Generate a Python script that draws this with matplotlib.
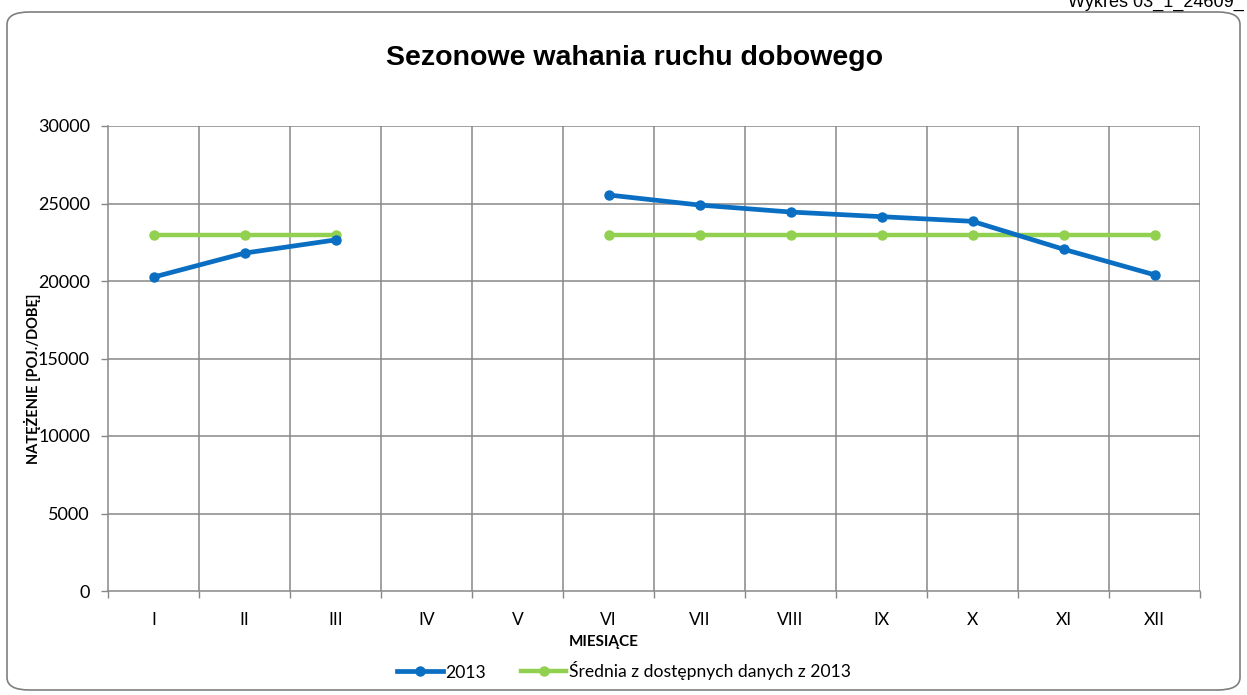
import matplotlib.pyplot as plt
import numpy as np
from matplotlib.patches import FancyBboxPatch

# data
miesiace = ['I', 'II', 'III', 'IV', 'V', 'VI', 'VII', 'VIII', 'IX', 'X', 'XI', 'XII']
ruch_2013 = [20250, 21800, 22650, np.nan, np.nan, 25550, 24900, 24450, 24150, 23850, 22050, 20400]
srednia_2013 = [23000, 23000, 23000, np.nan, np.nan, 23000, 23000, 23000, 23000, 23000, 23000, 23000]
y_ticks = [0, 5000, 10000, 15000, 20000, 25000, 30000]

blue = '#0A6FC2'
green = '#92D050'
grid_c = '#878787'

fig = plt.figure(figsize=(12.47, 6.95), dpi=100)
ax = fig.add_axes([108/1247, 1-591/695, (1200-108)/1247, (591-126)/695])

x = np.arange(len(miesiace))
ax.plot(x, ruch_2013, '-o', color=blue, lw=3.4, ms=6.5, label='2013', zorder=4)
ax.plot(x, srednia_2013, '-o', color=green, lw=3.2, ms=6.5,
        label='Średnia z dostępnych danych z 2013', zorder=3)

ax.set_xlim(-0.5, 11.5)
ax.set_ylim(0, 30000)
ax.set_xticks(x)
ax.set_xticklabels(miesiace, fontsize=12.5, family='Lato')
ax.set_xticks(np.arange(-0.5, 12, 1), minor=True)
ax.tick_params(axis='x', which='major', length=0, pad=15)
ax.tick_params(axis='x', which='minor', length=5, color=grid_c, width=1)
ax.set_yticks(y_ticks)
ax.set_yticklabels([str(v) for v in y_ticks], fontsize=13, family='Lato')
ax.tick_params(axis='y', length=5, color=grid_c, width=1, pad=8)

for v in y_ticks[1:]:
    ax.axhline(v, color=grid_c, lw=1.1, zorder=1)
for b in np.arange(0.5, 12, 1):
    ax.axvline(b, color=grid_c, lw=1.1, zorder=1)
for s in ['top', 'right']:
    ax.spines[s].set_visible(False)
for s in ['left', 'bottom']:
    ax.spines[s].set_color(grid_c)
    ax.spines[s].set_linewidth(1.1)

fig.text(635/1247, 1-58/695, 'Sezonowe wahania ruchu dobowego', ha='center', va='center',
         fontsize=20.5, fontweight='bold', family='Liberation Sans')
fig.text(32/1247, 1-379/695, 'NATĘŻENIE [POJ./DOBĘ]', rotation=90, ha='center', va='center',
         fontsize=10.5, fontweight='bold', family='Lato')
fig.text(604/1247, 1-642/695, 'MIESIĄCE', ha='center', va='center',
         fontsize=11, fontweight='bold', family='Lato')
fig.text(1068/1247, 1-7/695, 'Wykres 03_1_24609_', ha='left', va='baseline',
         fontsize=13, family='Liberation Sans')

leg = ax.legend(loc='center', bbox_to_anchor=(624/1247, 1-671/695), bbox_transform=fig.transFigure,
                ncol=2, frameon=False, handlelength=2.6, handletextpad=0.15, columnspacing=2.0,
                prop={'family': 'Lato', 'size': 12.6})

frame = FancyBboxPatch((7/1247, 5/695), 1233/1247, 678/695, boxstyle='round,pad=0,rounding_size=0.018',
                       transform=fig.transFigure, fill=False, edgecolor='#7f7f7f', lw=1.2)
fig.patches.append(frame)

plt.savefig('out.png', dpi=100)
